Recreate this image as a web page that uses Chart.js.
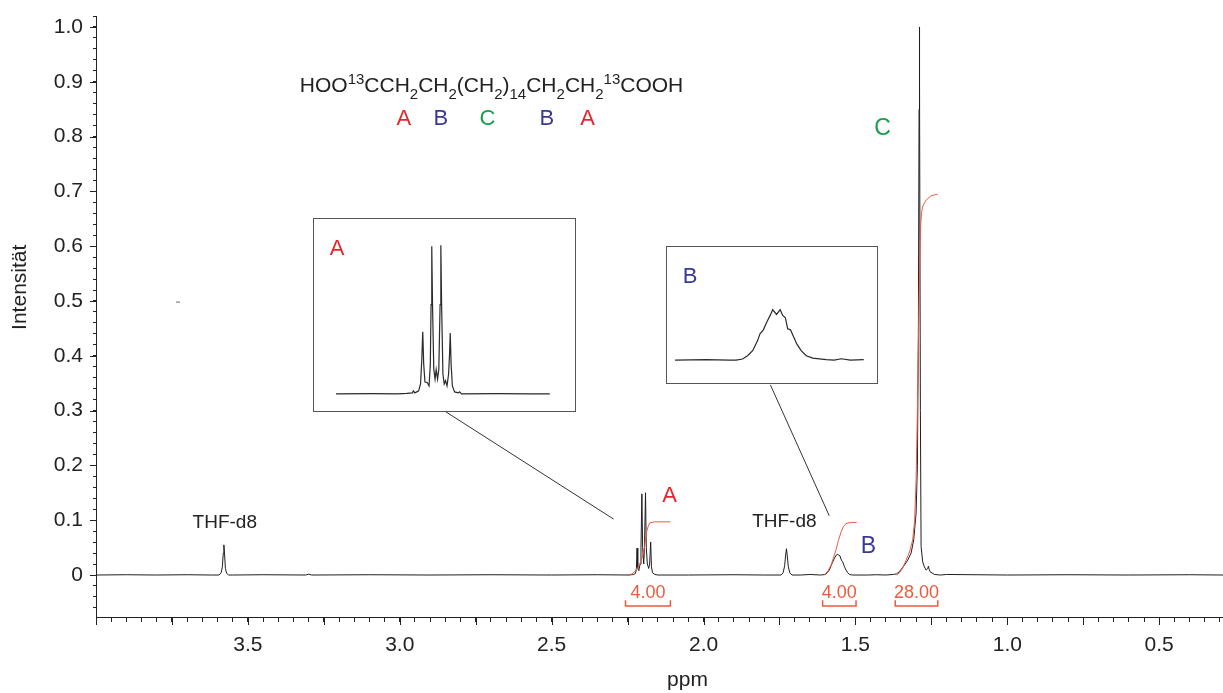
<!DOCTYPE html>
<html>
<head>
<meta charset="utf-8">
<script src="https://cdn.jsdelivr.net/npm/chart.js@4.4.0/dist/chart.umd.min.js"></script>
<style>
  html, body { margin: 0; padding: 0; background: #fff; }
  #wrap { position: relative; width: 1223px; height: 693px; }
  .inset { position: absolute; border: 1px solid #555; background: #fff; box-sizing: border-box; }
  .inset canvas { display: block; }
</style>
</head>
<body>
<div id="wrap">
  <canvas id="nmr" width="1223" height="693"></canvas>
  <div class="inset" id="boxA"><canvas id="insetA"></canvas></div>
  <div class="inset" id="boxB"><canvas id="insetB"></canvas></div>
</div>
<script>
const FONT = "'Liberation Sans', Arial, sans-serif";
const RED = '#e5262c', BLUE = '#3b3a92', GREEN = '#17a04b', INTEG = '#ee5a3e';

// spectrum, [ppm, intensity]
const baseline = [[4.0,0],[3.9,0.0005],[3.8,0],[3.7,0.0005],[3.62,0],[3.55,0],[3.45,0.0005],[3.31,0],[3.30,0.0015],[3.29,0],
  [3.1,0.0005],[2.9,0],[2.7,0.0005],[2.5,0],[2.35,0.0005],[2.05,0],[1.9,0.0005],[1.8,0],[1.68,0],[1.65,0.001],
  [1.46,0],[1.43,0.0005],[1.2,0.001],[1.0,0],[0.8,0.0005],[0.6,0],[0.4,0.0005],[0.29,0]];
const thfPeak1 = [[3.595,0],[3.588,0.004],[3.584,0.015],[3.581,0.04],[3.579,0.055],[3.577,0.04],[3.574,0.012],[3.57,0.003],[3.563,0]];
const multipletA = [[2.245,0],[2.23,0.001],[2.224,0.003],[2.221,0.012],[2.219,0.049],[2.2165,0.012],[2.213,0.008],[2.209,0.02],
  [2.206,0.05],[2.203,0.148],[2.2005,0.05],[2.197,0.02],[2.1945,0.05],[2.191,0.15],[2.1885,0.05],[2.185,0.02],[2.1805,0.012],
  [2.1775,0.02],[2.174,0.06],[2.1715,0.015],[2.168,0.004],[2.16,0.001],[2.15,0]];
const thfPeak2 = [[1.745,0],[1.738,0.004],[1.733,0.017],[1.730,0.035],[1.727,0.048],[1.724,0.033],[1.721,0.015],[1.716,0.004],[1.709,0]];
const peakB = [[1.615,0],[1.599,0.001],[1.593,0.004],[1.586,0.009],[1.578,0.02],[1.569,0.031],[1.562,0.037],[1.5582,0.038],
  [1.555,0.036],[1.551,0.035],[1.546,0.027],[1.542,0.024],[1.536,0.015],[1.531,0.009],[1.525,0.004],[1.520,0.001],[1.51,0]];
const peakC = [[1.40,0],[1.375,0.001],[1.3651,0.002],[1.3553,0.006],[1.3388,0.018],[1.3280,0.027],[1.3168,0.04],[1.3082,0.064],
  [1.3003,0.113],[1.2960,0.2],[1.2928,0.45],[1.2905,0.85],[1.2895,1.0],[1.2885,0.9],[1.2862,0.3],[1.2839,0.052],[1.2786,0.024],
  [1.2730,0.015],[1.2674,0.009],[1.2615,0.012],[1.2599,0.016],[1.2570,0.01],[1.2543,0.006],[1.2401,0.001],[1.22,0]];
const strayMark = [[3.73,0.498]];

// integral curves
const integralA = [[2.249,0],[2.235,0.002],[2.2214,0.009],[2.212,0.018],[2.2049,0.027],[2.1990,0.04],[2.1941,0.052],
  [2.1885,0.077],[2.1820,0.089],[2.1776,0.095],[2.1612,0.097],[2.1095,0.097]];
const integralB = [[1.602,0],[1.590,0.008],[1.580,0.018],[1.572,0.032],[1.564,0.046],[1.556,0.063],[1.547,0.079],
  [1.540,0.088],[1.531,0.094],[1.514,0.096],[1.496,0.096]];
const integralC = [[1.3651,0],[1.3553,0.004],[1.3450,0.012],[1.3333,0.027],[1.3220,0.042],[1.3115,0.064],[1.3050,0.10],
  [1.3003,0.174],[1.2960,0.3],[1.2920,0.45],[1.2880,0.58],[1.2850,0.64],[1.2820,0.662],[1.2786,0.673],[1.2674,0.684],
  [1.2510,0.692],[1.2293,0.695]];
const integralRanges = [[2.257,2.109],[1.608,1.498],[1.369,1.229]];
const integralValues = ['4.00','4.00','28.00'];

// expanded insets
const insetAData = [[2.357,0],[2.30,0.0003],[2.26,0],[2.245,0.0005],[2.236,0.001],[2.2343,0.003],[2.232,0.001],[2.226,0.003],
  [2.223,0.01],[2.221,0.035],[2.2195,0.0626],[2.218,0.03],[2.216,0.012],[2.2125,0.0115],[2.2095,0.008],[2.2075,0.03],
  [2.2063,0.09],[2.2052,0.149],[2.204,0.09],[2.202,0.025],[2.2,0.015],[2.1982,0.0245],[2.196,0.015],[2.194,0.025],
  [2.192,0.09],[2.1908,0.15],[2.1896,0.09],[2.1875,0.02],[2.1855,0.01],[2.1834,0.0133],[2.181,0.008],[2.1785,0.02],
  [2.177,0.04],[2.1759,0.0615],[2.1745,0.03],[2.1725,0.008],[2.169,0.002],[2.163,0.001],[2.1611,0.002],[2.158,0],
  [2.10,0.0003],[2.05,0],[2.018,0]];
const insetBData = [[1.647,0],[1.62,0.0003],[1.60,0],[1.5941,0],[1.5884,0.0008],[1.5841,0.0033],[1.5797,0.0071],
  [1.5754,0.0147],[1.5733,0.0198],[1.5704,0.0228],[1.5675,0.0286],[1.5645,0.0337],[1.5623,0.038],[1.559,0.0344],
  [1.5558,0.038],[1.5536,0.0337],[1.5513,0.0319],[1.5493,0.0236],[1.5469,0.0228],[1.5434,0.016],[1.5414,0.0122],
  [1.5376,0.0071],[1.5332,0.0033],[1.5275,0.0015],[1.5158,0.0003],[1.509,0],[1.5027,0.001],[1.495,0],[1.4833,0.0003]];

// annotation text, [text, ppm, intensity, colour, size]
const peakLabels = [['THF-d8',3.576,0.095,'#222',19],['THF-d8',1.734,0.097,'#222',19],['A',2.112,0.144,RED,22],
  ['B',1.457,0.051,BLUE,23],['C',1.411,0.814,GREEN,23]];
const formulaParts = [['HOO','n'],['13','sup'],['CCH','n'],['2','sub'],['CH','n'],['2','sub'],['(CH','n'],['2','sub'],[')','n'],
  ['14','sub'],['CH','n'],['2','sub'],['CH','n'],['2','sub'],['13','sup'],['COOH','n']];
const formulaAt = [3.329, 0.881];
const groupLabels = [['A',2.987,RED],['B',2.865,BLUE],['C',2.711,GREEN],['B',2.516,BLUE],['A',2.382,RED]];
const groupRow = 0.832;
const connectors = [[2.849,0.298,2.296,0.102],[1.780,0.347,1.586,0.108]];
// inset frames in main axis units: [ppm left, ppm right, top, bottom]
const frameA = [3.286, 2.424, 0.651, 0.300];
const frameB = [2.122, 1.428, 0.601, 0.351];

const toXY = arr => arr.map(p => ({x: p[0], y: p[1]}));
const spectrum = [...baseline, ...thfPeak1, ...multipletA, ...thfPeak2, ...peakB, ...peakC].sort((a, b) => b[0] - a[0]);

const decor = {
  id: 'decor',
  afterDraw(chart) {
    const {ctx, scales: {x, y}} = chart;
    const px = v => x.getPixelForValue(v), py = v => y.getPixelForValue(v);
    ctx.save();
    // longer ticks
    ctx.strokeStyle = '#222'; ctx.lineWidth = 1;
    const xb = chart.chartArea.bottom, yl = chart.chartArea.left;
    for (let k = 2; k <= 16; k++) {
      const X = Math.round(px(k * 0.25)) + 0.5;
      ctx.beginPath(); ctx.moveTo(X, xb); ctx.lineTo(X, xb + 8); ctx.stroke();
    }
    for (let k = 0; k <= 10; k++) {
      const Y = Math.round(py(k * 0.1)) + 0.5;
      ctx.beginPath(); ctx.moveTo(yl - 6, Y); ctx.lineTo(yl, Y); ctx.stroke();
    }
    // connectors
    ctx.strokeStyle = '#333';
    connectors.forEach(c => {
      ctx.beginPath(); ctx.moveTo(px(c[0]), py(c[1])); ctx.lineTo(px(c[2]), py(c[3])); ctx.stroke();
    });
    // integral brackets
    ctx.strokeStyle = INTEG; ctx.fillStyle = INTEG; ctx.lineWidth = 1.5;
    ctx.font = '18px ' + FONT; ctx.textAlign = 'center'; ctx.textBaseline = 'middle';
    integralRanges.forEach((r, i) => {
      const a = px(r[0]), b = px(r[1]), lo = py(-0.0567), hi = py(-0.046);
      ctx.beginPath(); ctx.moveTo(a, hi); ctx.lineTo(a, lo); ctx.lineTo(b, lo); ctx.lineTo(b, hi); ctx.stroke();
      ctx.fillText(integralValues[i], (a + b) / 2, py(-0.033));
    });
    // peak labels
    peakLabels.forEach(l => {
      ctx.fillStyle = l[3]; ctx.font = l[4] + 'px ' + FONT;
      ctx.fillText(l[0], px(l[1]), py(l[2]));
    });
    groupLabels.forEach(l => {
      ctx.fillStyle = l[2]; ctx.font = '22px ' + FONT;
      ctx.fillText(l[0], px(l[1]), py(groupRow));
    });
    // formula
    ctx.fillStyle = '#222'; ctx.textAlign = 'left'; ctx.textBaseline = 'alphabetic';
    let fx = px(formulaAt[0]);
    const fy = py(formulaAt[1]);
    formulaParts.forEach(([t, k]) => {
      ctx.font = (k === 'n' ? 21 : 15) + 'px ' + FONT;
      ctx.fillText(t, fx, fy + (k === 'sup' ? -8 : k === 'sub' ? 7 : 0));
      fx += ctx.measureText(t).width;
    });
    // axis titles
    ctx.textAlign = 'center'; ctx.textBaseline = 'middle';
    ctx.font = '21px ' + FONT; ctx.fillStyle = '#222';
    ctx.fillText('ppm', (chart.chartArea.left + chart.chartArea.right) / 2 + 28, chart.height - 13);
    ctx.translate(20, py(0.525)); ctx.rotate(-Math.PI / 2);
    ctx.fillText('Intensität', 0, 0);
    ctx.restore();
  }
};

const chart = new Chart(document.getElementById('nmr'), {
  type: 'scatter',
  data: {
    datasets: [
      {data: toXY(spectrum), showLine: true, borderColor: '#1e1e1e', borderWidth: 1, pointRadius: 0, pointHoverRadius: 0, tension: 0, order: 2},
      {data: toXY(integralA), showLine: true, borderColor: INTEG, borderWidth: 1, pointRadius: 0, pointHoverRadius: 0, order: 1},
      {data: toXY(integralB), showLine: true, borderColor: INTEG, borderWidth: 1, pointRadius: 0, pointHoverRadius: 0, order: 1},
      {data: toXY(integralC), showLine: true, borderColor: INTEG, borderWidth: 1, pointRadius: 0, pointHoverRadius: 0, order: 1},
      {data: toXY(strayMark), pointStyle: 'line', pointRadius: 2, pointHoverRadius: 2, borderColor: '#666', borderWidth: 1, order: 3}
    ]
  },
  options: {
    responsive: false,
    animation: false,
    events: [],
    layout: {autoPadding: false, padding: {top: 16, right: 0, left: 0, bottom: 0}},
    plugins: {legend: {display: false}, tooltip: {enabled: false}},
    scales: {
      x: {
        type: 'linear', reverse: true, min: 0.29, max: 4.0,
        afterFit(s) { s.height = 76; s.paddingLeft = 0; s.paddingRight = 0; },
        grid: {drawOnChartArea: false, tickLength: 5, color: '#222', tickColor: '#222'},
        border: {display: true, color: '#222', width: 1},
        ticks: {
          stepSize: 0.05, autoSkip: false, maxRotation: 0, includeBounds: false, padding: 0, color: '#222',
          font: {family: FONT, size: 21, lineHeight: 2.25},
          callback: v => { const r = Math.round(v * 2) / 2; return Math.abs(v - r) < 1e-6 && r < 3.9 ? r.toFixed(1) : ''; }
        }
      },
      y: {
        min: -0.0766, max: 1.02,
        afterFit(s) { s.width = 96; s.paddingTop = 0; s.paddingBottom = 0; },
        grid: {drawOnChartArea: false, tickLength: 3, color: '#222', tickColor: '#222'},
        border: {display: true, color: '#222', width: 1},
        ticks: {
          stepSize: 0.02, autoSkip: false, includeBounds: false, padding: 10, color: '#222',
          font: {family: FONT, size: 21},
          callback: v => { const r = Math.round(v * 10) / 10; if (Math.abs(v - r) > 1e-6 || r < 0) return ''; return r === 0 ? '0' : r.toFixed(1); }
        }
      }
    }
  },
  plugins: [decor]
});

function makeInset(boxId, canvasId, frame, points, xr, yr, tag, tagColor) {
  const {x, y} = chart.scales;
  const left = Math.round(x.getPixelForValue(frame[0])), right = Math.round(x.getPixelForValue(frame[1]));
  const top = Math.round(y.getPixelForValue(frame[2])), bottom = Math.round(y.getPixelForValue(frame[3]));
  const box = document.getElementById(boxId);
  Object.assign(box.style, {left: left + 'px', top: top + 'px', width: (right - left + 1) + 'px', height: (bottom - top + 1) + 'px'});
  const cv = document.getElementById(canvasId);
  cv.width = right - left - 1; cv.height = bottom - top - 1;
  return new Chart(cv, {
    type: 'scatter',
    data: {datasets: [{data: toXY(points), showLine: true, borderColor: '#2a2a2a', borderWidth: 1.2, pointRadius: 0, pointHoverRadius: 0, tension: 0}]},
    options: {
      responsive: false, animation: false, events: [],
      layout: {autoPadding: false, padding: 0},
      plugins: {legend: {display: false}, tooltip: {enabled: false}},
      scales: {
        x: {type: 'linear', reverse: true, min: xr[0], max: xr[1], display: false},
        y: {min: yr[0], max: yr[1], display: false}
      }
    },
    plugins: [{
      id: 'tag',
      afterDraw(c) {
        const ctx = c.ctx;
        ctx.save();
        ctx.fillStyle = tagColor; ctx.font = '22px ' + FONT;
        ctx.textAlign = 'center'; ctx.textBaseline = 'middle';
        ctx.fillText(tag, 23, 30);
        ctx.restore();
      }
    }]
  });
}

makeInset('boxA', 'insetA', frameA, insetAData, [1.978, 2.392], [-0.0173, 0.1765], 'A', RED);
makeInset('boxB', 'insetB', frameB, insetBData, [1.4718, 1.654], [-0.0173, 0.0853], 'B', BLUE);
</script>
</body>
</html>
